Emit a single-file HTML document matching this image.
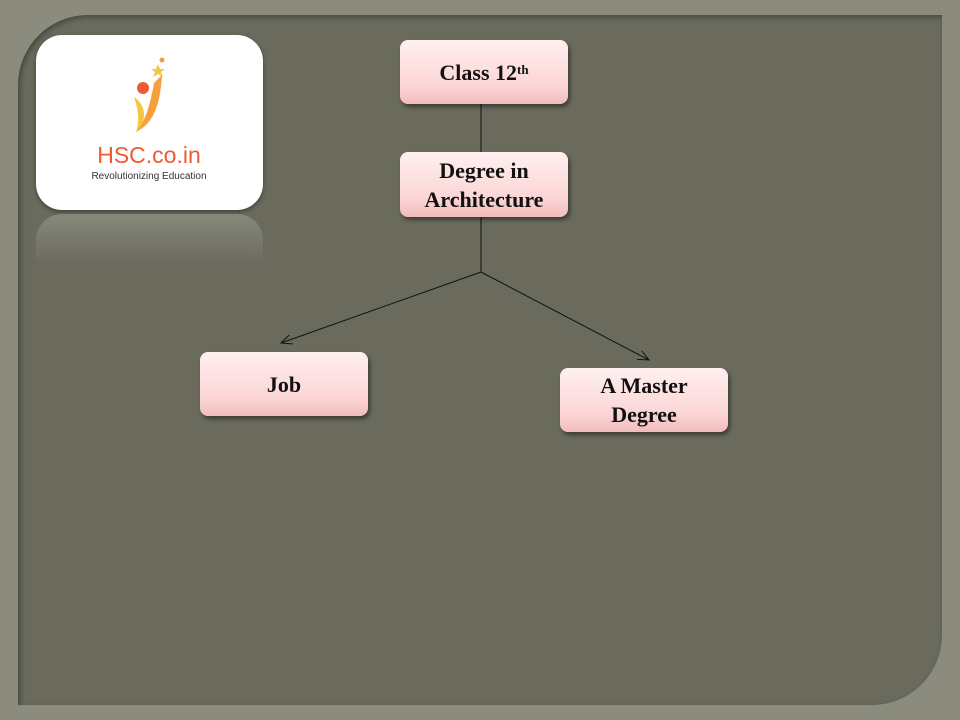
<!DOCTYPE html>
<html><head><style>
body{margin:0;width:960px;height:720px;overflow:hidden;background:#8b8c7e;font-family:"Liberation Serif",serif;}
.panel{position:absolute;left:18px;top:15px;width:924px;height:690px;background:#6a6b5d;border-radius:70px 0 70px 0;box-shadow:inset 2px 2px 6px rgba(0,0,0,.35);}
.box{position:absolute;width:168px;height:64px;border-radius:8px;background:linear-gradient(#fff0f0,#fbd6d6 70%,#f2bcbc);box-shadow:2px 3px 4px rgba(0,0,0,.45);display:flex;align-items:center;justify-content:center;text-align:center;font-weight:bold;font-size:22px;line-height:29px;color:#111;}
.logo{position:absolute;left:36px;top:35px;width:227px;height:175px;background:#fff;border-radius:26px;box-shadow:0 2px 5px rgba(0,0,0,.4);}
.refl{position:absolute;left:36px;top:214px;width:227px;height:50px;border-radius:26px 26px 0 0;background:linear-gradient(rgba(160,160,150,.55),rgba(106,107,93,0));}
</style></head><body>
<div class="panel"></div>
<div class="logo">
<svg width="227" height="175" style="position:absolute;left:0;top:0">
<circle cx="126" cy="25" r="2.5" fill="#f39c3c"/>
<polygon points="122,29 124,34 129,34 125,37 127,42 122,39 117,42 119,37 115,34 120,34" fill="#f7c640"/>
<circle cx="107" cy="53" r="6" fill="#ef5a32"/>
<path d="M126,40 C124,70 118,88 100,97 C110,85 114,70 118,48Z" fill="#f6a03a"/>
<path d="M98,62 C110,70 112,85 100,97 C104,84 102,74 98,62Z" fill="#f7c640"/>
<text x="113" y="128" text-anchor="middle" font-family="Liberation Sans,sans-serif" font-size="23" fill="#ef5a32">HSC.co.in</text>
<text x="113" y="144" text-anchor="middle" font-family="Liberation Sans,sans-serif" font-size="10" fill="#333">Revolutionizing Education</text>
</svg></div>
<div class="refl"></div>
<svg width="960" height="720" style="position:absolute;left:0;top:0">
<defs><marker id="a" markerWidth="12" markerHeight="10" refX="11" refY="5" orient="auto" markerUnits="userSpaceOnUse"><path d="M0,0 L11,5 L0,10" fill="none" stroke="#111" stroke-width="1"/></marker></defs>
<g stroke="#111" stroke-width="1" fill="none">
<line x1="481" y1="104" x2="481" y2="152"/>
<line x1="481" y1="217" x2="481" y2="272"/>
<line x1="481" y1="272" x2="281" y2="343" marker-end="url(#a)"/>
<line x1="481" y1="272" x2="649" y2="360" marker-end="url(#a)"/>
</g></svg>
<div class="box" style="left:400px;top:40px">Class 12<sup style="font-size:13px;line-height:0;position:relative;top:-2px">th</sup></div>
<div class="box" style="left:400px;top:152px;height:65px">Degree in<br>Architecture</div>
<div class="box" style="left:200px;top:352px">Job</div>
<div class="box" style="left:560px;top:368px">A Master<br>Degree</div>
</body></html>
